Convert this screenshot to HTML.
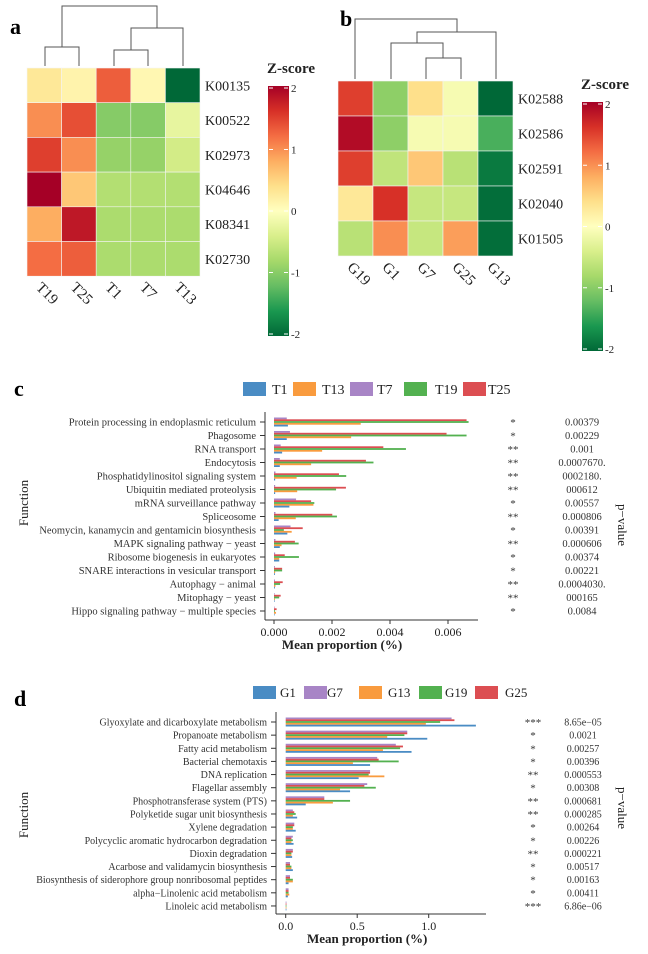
<!DOCTYPE html>
<html><head><meta charset="utf-8"><style>
body{margin:0;background:#fff}
svg{display:block;font-family:"Liberation Serif",serif}
</style></head><body>
<svg id="s" width="648" height="954" viewBox="0 0 648 954" xmlns="http://www.w3.org/2000/svg">
<text x="10" y="34" font-size="22" font-weight="bold">a</text>
<text x="340" y="26" font-size="22" font-weight="bold">b</text>
<text x="14" y="396" font-size="22" font-weight="bold">c</text>
<text x="14" y="706" font-size="22" font-weight="bold">d</text>
<g id="g"></g>
</svg>
<script>
// Heatmap a
const aCols=["T19","T25","T1","T7","T13"];
const aRows=["K00135","K00522","K02973","K04646","K08341","K02730"];
const aZ=[[0.3,0.15,1.3,0.1,-2],[1.0,1.4,-1.0,-1.0,-0.25],[1.5,1.0,-0.9,-0.9,-0.45],[2.0,0.6,-0.7,-0.7,-0.7],[0.8,1.8,-0.75,-0.75,-0.75],[1.2,1.3,-0.75,-0.75,-0.75]];
// Heatmap b
const bCols=["G19","G1","G7","G25","G13"];
const bRows=["K02588","K02586","K02591","K02040","K01505"];
const bZ=[[1.5,-0.95,0.4,-0.1,-2],[1.9,-0.95,-0.1,-0.1,-1.35],[1.5,-0.6,0.6,-0.65,-1.85],[0.3,1.6,-0.55,-0.55,-1.95],[-0.65,1.0,-0.55,0.9,-1.95]];
const zTicks=[2,1,0,-1,-2];
// Panel c
const cFuncs=["Protein processing in endoplasmic reticulum","Phagosome","RNA transport","Endocytosis","Phosphatidylinositol signaling system","Ubiquitin mediated proteolysis","mRNA surveillance pathway","Spliceosome","Neomycin, kanamycin and gentamicin biosynthesis","MAPK signaling pathway − yeast","Ribosome biogenesis in eukaryotes","SNARE interactions in vesicular transport","Autophagy − animal","Mitophagy − yeast","Hippo signaling pathway − multiple species"];
const cT7=[0.44,0.55,0.23,0.2,0.05,0.04,0.76,0.05,0.57,0.05,0.04,0.03,0.03,0.02,0.02];
const cT25=[6.64,5.95,3.77,3.17,2.24,2.48,1.28,2.01,0.99,0.72,0.37,0.28,0.3,0.23,0.09];
const cT19=[6.71,6.64,4.55,3.43,2.49,2.14,1.39,2.17,0.34,0.85,0.86,0.28,0.21,0.18,0.03];
const cT13=[2.99,2.66,1.66,1.28,0.78,0.8,1.36,0.75,0.61,0.26,0.18,0.04,0.05,0.03,0.07];
const cT1=[0.48,0.44,0.28,0.2,0.04,0.04,0.53,0.16,0.46,0.2,0.18,0.03,0.03,0.02,0.02];
const cStars=["*","*","**","**","**","**","*","**","*","**","*","*","**","**","*"];
const cP=["0.00379","0.00229","0.001","0.0007670.","0002180.","000612","0.00557","0.000806","0.00391","0.000606","0.00374","0.00221","0.0004030.","000165","0.0084"];
const cTicks=[0,2,4,6];
const cTickLabels=["0.000","0.002","0.004","0.006"];
// Panel d
const dFuncs=["Glyoxylate and dicarboxylate metabolism","Propanoate metabolism","Fatty acid metabolism","Bacterial chemotaxis","DNA replication","Flagellar assembly","Phosphotransferase system (PTS)","Polyketide sugar unit biosynthesis","Xylene degradation","Polycyclic aromatic hydrocarbon degradation","Dioxin degradation","Acarbose and validamycin biosynthesis","Biosynthesis of siderophore group nonribosomal peptides","alpha−Linolenic acid metabolism","Linoleic acid metabolism"];
const dG7=[1.16,0.85,0.77,0.64,0.59,0.57,0.27,0.05,0.06,0.05,0.05,0.03,0.03,0.02,0.005];
const dG25=[1.18,0.85,0.82,0.65,0.59,0.55,0.27,0.06,0.06,0.04,0.05,0.03,0.03,0.02,0.005];
const dG19=[1.08,0.83,0.80,0.79,0.58,0.63,0.45,0.07,0.05,0.05,0.04,0.04,0.05,0.02,0.005];
const dG13=[0.98,0.71,0.68,0.47,0.69,0.38,0.33,0.05,0.05,0.04,0.04,0.04,0.05,0.025,0.005];
const dG1=[1.33,0.99,0.88,0.59,0.51,0.45,0.14,0.08,0.07,0.055,0.045,0.05,0.02,0.015,0.005];
const dStars=["***","*","*","*","**","*","**","**","*","*","**","*","*","*","***"];
const dP=["8.65e−05","0.0021","0.00257","0.00396","0.000553","0.00308","0.000681","0.000285","0.00264","0.00226","0.000221","0.00517","0.00163","0.00411","6.86e−06"];
const dTicks=[0,0.5,1.0];
const dTickLabels=["0.0","0.5","1.0"];

const NS="http://www.w3.org/2000/svg";
const G=document.getElementById('g');
function mk(tag,attrs,parent){const e=document.createElementNS(NS,tag);for(const k in attrs)e.setAttribute(k,attrs[k]);(parent||G).appendChild(e);return e;}
function txt(x,y,s,size,extra){const e=mk('text',Object.assign({x:x,y:y,'font-size':size},extra||{}));e.textContent=s;return e;}
const stops=["#006837","#1a9850","#66bd63","#a6d96a","#d9ef8b","#ffffbf","#fee08b","#fdae61","#f46d43","#d73027","#a50026"];
function hex(c){return [1,3,5].map(i=>parseInt(c.substr(i,2),16));}
function zc(z){let t=(Math.max(-2,Math.min(2,z))+2)/4*10;let i=Math.min(9,Math.floor(t));let f=t-i;const a=hex(stops[i]),b=hex(stops[i+1]);return 'rgb('+a.map((v,k)=>Math.round(v+(b[k]-v)*f)).join(',')+')';}

function heat(cols,rows,Z,x0,y0,w,h,pfx){
  rows.forEach((r,i)=>{
    cols.forEach((c,j)=>{
      const e=mk('rect',{x:x0+j*w,y:y0+i*h,width:w,height:h,fill:zc(Z[i][j]),stroke:'#f4f4f4','stroke-width':0.6});
      
      
    });
    const t=txt(x0+cols.length*w+5,y0+i*h+h/2+5,r,14,{fill:'#222'});
    
    
  });
  cols.forEach((c,j)=>{
    const cx=x0+j*w+w/2-9, cy=y0+rows.length*h+12;
    const t=txt(cx,cy,c,15,{transform:'rotate(45 '+cx+' '+cy+')',fill:'#222'});
    
    
  });
}
heat(aCols,aRows,aZ,27,68,34.6,34.7,'heatmap-a');
heat(bCols,bRows,bZ,338,81,35,35,'heatmap-b');

function dendro(path,name){const e=mk('path',{d:path,fill:'none',stroke:'#555','stroke-width':1});}
dendro('M45 66V47H79V66M114 66V50H148V66M131 50V28H183V66M62 47V6H157V28','dendrogram-a');
dendro('M426 79V58H461V79M391 79V43H443V58M417 43V32H496V79M355 79V19H457V32','dendrogram-b');

function cbar(x,top,bot,pfx){
  const id=pfx+'grad';
  const d=mk('defs',{});const lg=mk('linearGradient',{id:id,x1:0,y1:1,x2:0,y2:0},d);
  stops.forEach((s,i)=>mk('stop',{offset:i/10,'stop-color':s},lg));
  const r=mk('rect',{x:x,y:top,width:21,height:bot-top,fill:'url(#'+id+')'});
  
  
  const t=txt(x-1,top-13,'Z-score',15,{'font-weight':'bold',fill:'#222'});
  
  
  const s=(bot-top-4)/4;
  zTicks.forEach(v=>{
    const y=top+2+(2-v)*s;
    mk('line',{x1:x+1,x2:x+5,y1:y,y2:y,stroke:'#fff','stroke-width':1});
    mk('line',{x1:x+16,x2:x+20,y1:y,y2:y,stroke:'#fff','stroke-width':1});
    const l=txt(x+23,y+4,String(v),11,{fill:'#222'});
    
    
  });
}
cbar(268,86,336,'panel-a');
cbar(582,102,351,'panel-b');

const colors={blue:'#4a8cc4',orange:'#f99b3e',purple:'#a885c6',green:'#53b150',red:'#dc4e52'};
function legend(items,y,w,h,size,pfx){
  items.forEach(it=>{
    const r=mk('rect',{x:it[1],y:y,width:w,height:h,fill:it[2]});
    
    
    const t=txt(it[3],y+h-2,it[0],size,{fill:'#222'});
    
    
  });
}
legend([["T1",243,colors.blue,272],["T13",293,colors.orange,322],["T7",350,colors.purple,377],["T19",404,colors.green,435],["T25",463,colors.red,488]],382,23,14,14,'panel-c');
legend([["G1",253,colors.blue,280],["G7",304,colors.purple,327],["G13",359,colors.orange,388],["G19",419,colors.green,445],["G25",475,colors.red,505]],686,23,13,13,'panel-d');

function barChart(o){
  const {funcs,series,ax,x0,scale,y0,step,axisY,xEnd,ticks,tickLabels,stars,pv,starX,pX,fs,pfx,titleY,pLabelY}=o;
  const X=v=>x0+v*scale, Y=i=>y0+i*step;
  funcs.forEach((f,i)=>{
    const t=txt(ax-9,Y(i)+3.5,f,fs,{'text-anchor':'end',fill:'#333'});
    
    
    mk('line',{x1:ax-5,x2:ax,y1:Y(i),y2:Y(i),stroke:'#333'});
    series.forEach((s,k)=>{
      const b=mk('rect',{x:X(0),y:Y(i)-4.5+k*1.8,width:Math.max(0.3,X(s[1][i])-X(0)),height:1.8,fill:s[0]});
      
      
    });
    const st=txt(starX,Y(i)+4,stars[i],11,{'text-anchor':'middle',fill:'#333'});
    
    
    const p=txt(pX,Y(i)+3.5,pv[i],fs,{'text-anchor':'middle',fill:'#333'});
    
    
  });
  const ya=mk('line',{x1:ax,x2:ax,y1:Y(0)-10,y2:axisY,stroke:'#333'});
  
  
  const xa=mk('line',{x1:ax,x2:xEnd,y1:axisY,y2:axisY,stroke:'#333'});
  
  
  ticks.forEach((v,i)=>{
    mk('line',{x1:X(v),x2:X(v),y1:axisY,y2:axisY+4,stroke:'#333'});
    const t=txt(X(v),axisY+16,tickLabels[i],12,{'text-anchor':'middle',fill:'#222'});
    
    
  });
  const xt=txt(X(ticks[1])+10,axisY+29,'Mean proportion (%)',13,{'text-anchor':'middle','font-weight':'bold',fill:'#222'});
  
  
  const fy=titleY;
  const ft=txt(28,fy,'Function',13,{'text-anchor':'middle',transform:'rotate(-90 28 '+fy+')',fill:'#222'});
  
  
  const pt=txt(618,pLabelY,'p−value',13,{'text-anchor':'middle',transform:'rotate(90 618 '+pLabelY+')',fill:'#222'});
  
  
}
barChart({funcs:cFuncs,series:[[colors.purple,cT7],[colors.red,cT25],[colors.green,cT19],[colors.orange,cT13],[colors.blue,cT1]],
  ax:265,x0:274,scale:29,y0:422,step:13.5,axisY:620,xEnd:478,ticks:cTicks,tickLabels:cTickLabels,stars:cStars,pv:cP,starX:513,pX:582,fs:10.5,pfx:'panel-c',titleY:503,pLabelY:525});
barChart({funcs:dFuncs,series:[[colors.purple,dG7],[colors.red,dG25],[colors.green,dG19],[colors.orange,dG13],[colors.blue,dG1]],
  ax:276,x0:285.7,scale:143,y0:722,step:13.14,axisY:914,xEnd:486,ticks:dTicks,tickLabels:dTickLabels,stars:dStars,pv:dP,starX:533,pX:583,fs:10,pfx:'panel-d',titleY:815,pLabelY:808});
</script>
</body></html>
